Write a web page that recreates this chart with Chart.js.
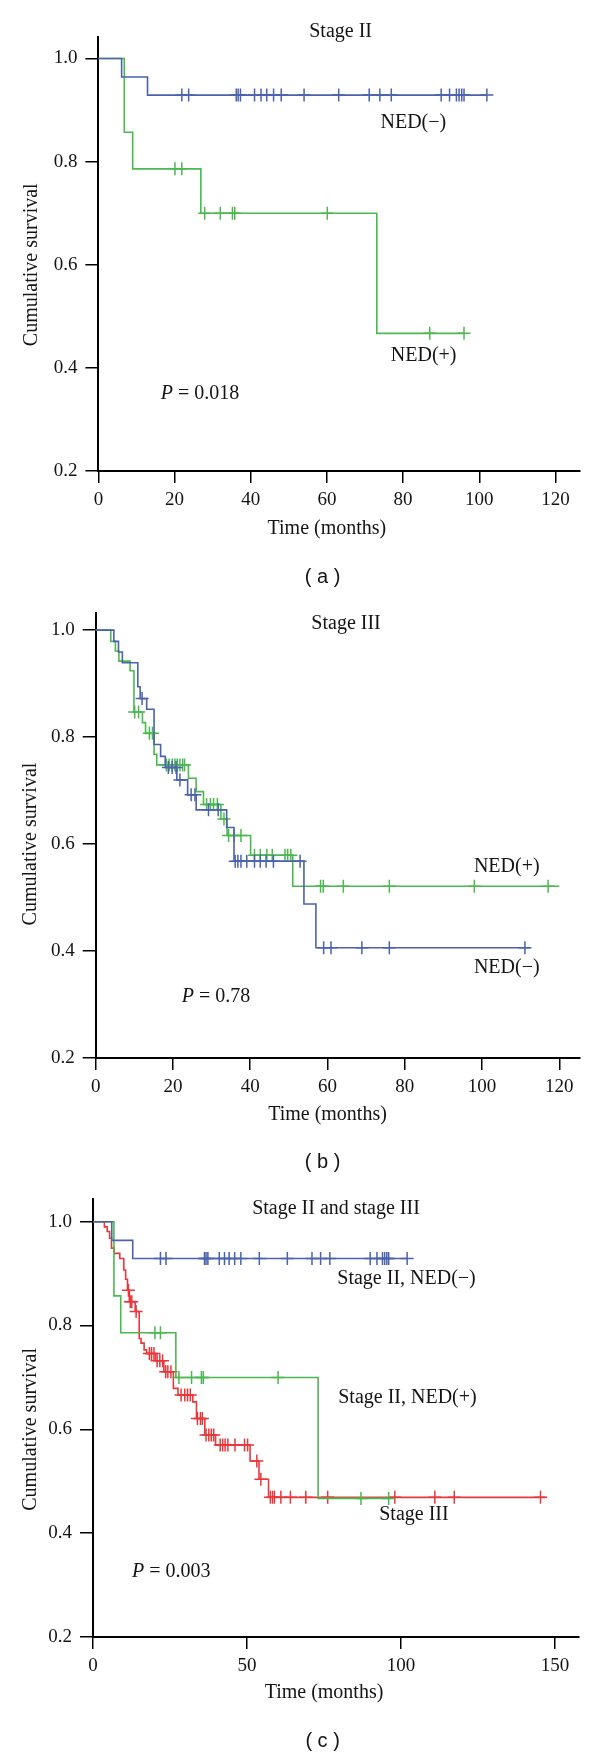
<!DOCTYPE html>
<html>
<head>
<meta charset="utf-8">
<script src="https://cdn.jsdelivr.net/npm/chart.js@4.4.1/dist/chart.umd.min.js"></script>
<style>
  html, body { margin: 0; padding: 0; background: #fff; }
  #wrap { position: relative; width: 600px; height: 1757px; }
  canvas { position: absolute; left: 0; }
</style>
</head>
<body>
<div id="wrap">
  <canvas id="cA" width="600" height="588" style="top:0px"></canvas>
  <canvas id="cB" width="600" height="584" style="top:588px"></canvas>
  <canvas id="cC" width="600" height="585" style="top:1172px"></canvas>
</div>
<script>
// ---------------- data ----------------
const xTicksAB = [0, 20, 40, 60, 80, 100, 120];
const xTicksC = [0, 50, 100, 150];
const yTicks = [0.2, 0.4, 0.6, 0.8, 1.0];

// Stage II, NED(-)
const s2NegEventTimes = [6.1, 12.9];
const s2NegSurv = [0.964, 0.929];
const s2NegCensor = [21.9, 23.7, 36.2, 36.7, 37.3, 41.0, 42.7, 44.2, 46.0, 48.0, 54.0, 63.1, 71.1, 73.9, 76.9, 90.0, 92.2, 94.0, 94.7, 95.4, 96.0, 102.0];
const s2NegEnd = 102.0;

// Stage II, NED(+)
const s2PosEventTimes = [6.8, 9.0, 26.9, 73.1];
const s2PosSurv = [0.857, 0.786, 0.700, 0.467];
const s2PosCensor = [20.1, 21.9, 27.9, 32.0, 35.2, 35.8, 60.1, 87.0, 96.0];
const s2PosEnd = 96.0;

// Stage III, NED(-)
const s3NegEventTimes = [4.7, 5.9, 6.9, 10.9, 11.5, 13.2, 15.1, 16.8, 18.0, 21.0, 23.8, 26.0, 33.9, 35.8, 53.9, 57.0];
const s3NegSurv = [0.979, 0.959, 0.939, 0.894, 0.872, 0.852, 0.786, 0.764, 0.743, 0.720, 0.692, 0.664, 0.631, 0.568, 0.488, 0.406];
const s3NegCensor = [12.0, 18.8, 19.8, 20.8, 21.8, 24.7, 25.7, 29.2, 31.7, 36.1, 36.8, 37.6, 39.1, 41.1, 42.6, 44.1, 46.0, 52.9, 59.0, 60.9, 68.9, 76.0, 111.1];
const s3NegEnd = 112.5;

// Stage III, NED(+)
const s3PosEventTimes = [3.9, 5.1, 6.0, 8.9, 9.9, 12.1, 12.9, 15.1, 15.8, 24.0, 26.0, 27.9, 32.4, 34.0, 40.1, 51.0];
const s3PosSurv = [0.979, 0.961, 0.942, 0.924, 0.847, 0.827, 0.807, 0.768, 0.748, 0.723, 0.698, 0.674, 0.647, 0.616, 0.579, 0.521];
const s3PosCensor = [10.1, 11.1, 13.9, 14.7, 18.3, 19.0, 19.8, 20.5, 21.1, 21.8, 22.5, 23.0, 28.7, 29.7, 30.5, 31.5, 33.2, 34.4, 35.8, 37.6, 41.1, 42.6, 44.3, 45.7, 49.0, 49.7, 50.5, 58.2, 58.9, 64.1, 76.0, 98.0, 117.1];
const s3PosEnd = 120.0;

// Stage III (all)
const s3EventTimes = [3.7, 4.6, 5.4, 6.0, 6.9, 8.7, 10.0, 10.6, 11.2, 11.8, 13.7, 15.0, 15.6, 16.6, 17.4, 20.3, 23.0, 26.1, 27.6, 32.4, 33.6, 36.3, 39.8, 51.0, 53.9, 57.0];
const s3Surv = [0.990, 0.981, 0.968, 0.949, 0.939, 0.929, 0.907, 0.889, 0.868, 0.846, 0.827, 0.775, 0.766, 0.753, 0.746, 0.732, 0.711, 0.679, 0.666, 0.653, 0.621, 0.589, 0.570, 0.539, 0.504, 0.469];
const s3Censor = [11.5, 12.1, 12.6, 14.0, 18.3, 19.0, 19.8, 20.8, 21.7, 22.6, 23.6, 24.3, 25.3, 28.6, 29.8, 30.7, 31.6, 33.9, 34.9, 35.5, 36.7, 37.6, 38.4, 39.2, 41.3, 42.1, 42.9, 43.8, 46.1, 49.2, 50.2, 53.2, 54.5, 57.6, 58.3, 58.9, 61.0, 64.1, 69.1, 76.2, 98.0, 111.0, 117.3, 145.3];
const s3End = 146.9;

// ---------------- helpers ----------------
const BLUE = '#4b62ad', GREEN = '#4cb850', RED = '#e8383d';
const SERIF = '"Liberation Serif", "Times New Roman", serif';
const SANS = '"Liberation Sans", Arial, sans-serif';
const TEXT_SIZE = 20, TICK_SIZE = 19;

function kmLine(ev, sv, end) {
  const pts = [{x: 0, y: 1}];
  ev.forEach((t, i) => pts.push({x: t, y: sv[i]}));
  pts.push({x: end, y: sv[sv.length - 1]});
  return pts;
}
function survAt(t, ev, sv) {
  let s = 1;
  for (let i = 0; i < ev.length; i++) if (ev[i] <= t) s = sv[i];
  return s;
}
function censorPts(c, ev, sv) { return c.map(t => ({x: t, y: survAt(t, ev, sv)})); }

function groupDatasets(ev, sv, cens, end, color) {
  return [
    {data: kmLine(ev, sv, end), borderColor: color, borderWidth: 1.6, pointRadius: 0,
     stepped: 'before', fill: false, showLine: true, clip: false},
    {data: censorPts(cens, ev, sv), borderColor: color, borderWidth: 1.5, pointStyle: 'cross',
     pointRadius: 6.5, showLine: false, clip: false}
  ];
}

const textPlugin = {
  id: 'texts',
  afterDraw(chart, args, opts) {
    const {ctx, chartArea} = chart;
    const xs = chart.scales.x, ys = chart.scales.y;
    ctx.save();
    ctx.fillStyle = '#141414';
    ctx.textBaseline = 'middle';
    for (const t of opts.labels) {
      const px = xs.getPixelForValue(t.x), py = ys.getPixelForValue(t.y);
      ctx.font = TEXT_SIZE + 'px ' + SERIF;
      ctx.textAlign = t.align || 'center';
      ctx.fillText(t.text, px, py);
    }
    {
      const p = opts.p;
      let px = xs.getPixelForValue(p.x), py = ys.getPixelForValue(p.y);
      ctx.textAlign = 'left';
      ctx.font = 'italic ' + TEXT_SIZE + 'px ' + SERIF;
      ctx.fillText('P', px, py);
      px += ctx.measureText('P').width;
      ctx.font = TEXT_SIZE + 'px ' + SERIF;
      ctx.fillText(' = ' + p.text, px, py);
    }
    ctx.font = TEXT_SIZE + 'px ' + SERIF;
    ctx.textAlign = 'center';
    const yMid = (ys.getPixelForValue(yTicks[0]) + ys.getPixelForValue(yTicks[yTicks.length - 1])) / 2;
    ctx.save();
    ctx.translate(chartArea.left - opts.yTitleOffset, yMid);
    ctx.rotate(-Math.PI / 2);
    ctx.fillText('Cumulative survival', 0, 0);
    ctx.restore();
    ctx.fillText('Time (months)', xs.getPixelForValue(opts.xTitleAt), chartArea.bottom + opts.xTitleOffset);
    ctx.font = '20px ' + SANS;
    ctx.fillText(opts.caption, 322.6, chartArea.bottom + opts.captionOffset);
    ctx.restore();
  }
};

function makeChart(id, datasets, cfg) {
  new Chart(document.getElementById(id), {
    type: 'line',
    data: {datasets},
    options: {
      responsive: false, animation: false, devicePixelRatio: 1,
      layout: {padding: cfg.padding},
      plugins: {
        legend: {display: false}, tooltip: {enabled: false},
        texts: cfg.texts
      },
      scales: {
        x: {
          type: 'linear', min: 0, max: cfg.xMax,
          afterFit: s => { s.height = 40; },
          afterBuildTicks: s => { s.ticks = cfg.xTicks.map(v => ({value: v})); },
          grid: {display: true, drawOnChartArea: false, drawTicks: true, tickLength: 12, color: '#000', lineWidth: 1.5},
          border: {display: true, color: '#000', width: 2},
          ticks: {color: '#141414', font: {family: SERIF, size: TICK_SIZE}, padding: 6, maxRotation: 0,
                  callback: v => String(v)}
        },
        y: {
          type: 'linear', min: 0.2, max: cfg.yMax,
          afterFit: s => { s.width = 60; },
          afterBuildTicks: s => { s.ticks = yTicks.map(v => ({value: v})); },
          grid: {display: true, drawOnChartArea: false, drawTicks: true, tickLength: 13, color: '#000', lineWidth: 1.5},
          border: {display: true, color: '#000', width: 2},
          ticks: {color: '#141414', font: {family: SERIF, size: TICK_SIZE}, padding: 8,
                  callback: v => Number(v).toFixed(1)}
        }
      }
    },
    plugins: [textPlugin]
  });
}

// Panel (a)
makeChart('cA', [
  ...groupDatasets(s2NegEventTimes, s2NegSurv, s2NegCensor, s2NegEnd, BLUE),
  ...groupDatasets(s2PosEventTimes, s2PosSurv, s2PosCensor, s2PosEnd, GREEN)
], {
  padding: {left: 38.4, right: 20.2, top: 37, bottom: 77},
  xMax: 126.4, yMax: 1.0417, xTicks: xTicksAB,
  texts: {
    labels: [
      {text: 'Stage II', x: 63.6, y: 1.051},
      {text: 'NED(\u2212)', x: 82.7, y: 0.875},
      {text: 'NED(+)', x: 85.4, y: 0.424}
    ],
    p: {text: '0.018', x: 16.4, y: 0.349},
    yTitleOffset: 67, xTitleAt: 60, xTitleOffset: 58, caption: '( a )', captionOffset: 106
  }
});

// Panel (b)
makeChart('cB', [
  ...groupDatasets(s3NegEventTimes, s3NegSurv, s3NegCensor, s3NegEnd, BLUE),
  ...groupDatasets(s3PosEventTimes, s3PosSurv, s3PosCensor, s3PosEnd, GREEN)
], {
  padding: {left: 35.7, right: 20.2, top: 25, bottom: 74},
  xMax: 125.3, yMax: 1.032, xTicks: xTicksAB,
  texts: {
    labels: [
      {text: 'Stage III', x: 64.8, y: 1.011},
      {text: 'NED(+)', x: 106.4, y: 0.557},
      {text: 'NED(\u2212)', x: 106.4, y: 0.368}
    ],
    p: {text: '0.78', x: 22.3, y: 0.315},
    yTitleOffset: 65, xTitleAt: 60, xTitleOffset: 57, caption: '( b )', captionOffset: 104
  }
});

// Panel (c)
makeChart('cC', [
  ...groupDatasets(s2NegEventTimes, s2NegSurv, s2NegCensor, s2NegEnd, BLUE),
  ...groupDatasets(s2PosEventTimes, s2PosSurv, s2PosCensor, s2PosEnd, GREEN),
  ...groupDatasets(s3EventTimes, s3Surv, s3Censor, s3End, RED)
], {
  padding: {left: 33, right: 21, top: 27, bottom: 80},
  xMax: 157.8, yMax: 1.0437, xTicks: xTicksC,
  texts: {
    labels: [
      {text: 'Stage II and stage III', x: 78.9, y: 1.024},
      {text: 'Stage II, NED(\u2212)', x: 101.8, y: 0.891},
      {text: 'Stage II, NED(+)', x: 102.1, y: 0.661},
      {text: 'Stage III', x: 104.2, y: 0.435}
    ],
    p: {text: '0.003', x: 12.7, y: 0.326},
    yTitleOffset: 62, xTitleAt: 75, xTitleOffset: 56, caption: '( c )', captionOffset: 104
  }
});
</script>
</body>
</html>
